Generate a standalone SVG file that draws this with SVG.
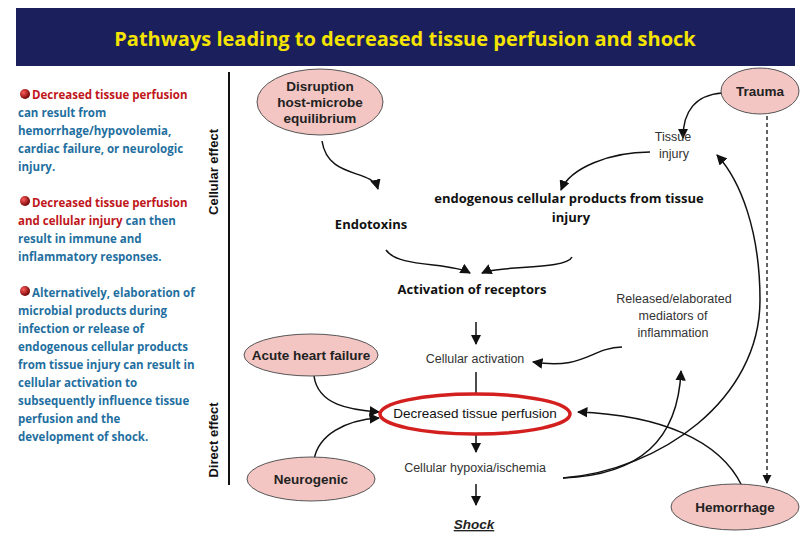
<svg xmlns="http://www.w3.org/2000/svg" width="810" height="540" viewBox="0 0 810 540">
<style>
.side{font-family:"Open Sans","Liberation Sans",sans-serif;font-size:11.5px;font-weight:bold;fill:#1f6fa0}
.r{fill:#c0161b}
.node{fill:#f4c6c3;stroke:#555;stroke-width:1}
.nt{font-family:"Liberation Sans",Arial,sans-serif;font-size:13.5px;font-weight:bold;fill:#222;text-anchor:middle}
.pt{font-family:"Liberation Sans",Arial,sans-serif;font-size:12.5px;fill:#333;text-anchor:middle}
.bt{font-family:"Open Sans","Liberation Sans",sans-serif;font-size:13px;font-weight:bold;fill:#111;text-anchor:middle}
.c{fill:none;stroke:#111;stroke-width:1.5;marker-end:url(#a)}
</style>
<defs>
<marker id="a" viewBox="0 0 10 10" refX="9" refY="5" markerWidth="7" markerHeight="7" orient="auto-start-reverse"><path d="M0,0 L10,5 L0,10 z" fill="#111"/></marker>
<radialGradient id="g" cx="0.35" cy="0.35" r="0.7"><stop offset="0" stop-color="#ff5a5a"/><stop offset="1" stop-color="#6a0000"/></radialGradient>
</defs>
<rect width="810" height="540" fill="#fff"/>
<g id="title"><rect x="16" y="8" width="779" height="58" fill="#1b1f5c"/>
<text x="405" y="46" text-anchor="middle" font-family="'Open Sans','Liberation Sans',sans-serif" font-size="20" font-weight="bold" fill="#f5e400">Pathways leading to decreased tissue perfusion and shock</text></g>
<g id="sidetext">
<circle cx="25" cy="94" r="5" fill="url(#g)"/>
<text class="side" x="32" y="99"><tspan class="r">Decreased tissue perfusion</tspan></text>
<text class="side" x="18" y="117">can result from</text>
<text class="side" x="18" y="135">hemorrhage/hypovolemia,</text>
<text class="side" x="18" y="153">cardiac failure, or neurologic</text>
<text class="side" x="18" y="171">injury.</text>
<circle cx="25" cy="201" r="5" fill="url(#g)"/>
<text class="side" x="32" y="207"><tspan class="r">Decreased tissue perfusion</tspan></text>
<text class="side" x="18" y="225"><tspan class="r">and cellular injury</tspan> can then</text>
<text class="side" x="18" y="243">result in immune and</text>
<text class="side" x="18" y="261">inflammatory responses.</text>
<circle cx="25" cy="291" r="5" fill="url(#g)"/>
<text class="side" x="32" y="297">Alternatively, elaboration of</text>
<text class="side" x="18" y="315">microbial products during</text>
<text class="side" x="18" y="333">infection or release of</text>
<text class="side" x="18" y="351">endogenous cellular products</text>
<text class="side" x="18" y="369">from tissue injury can result in</text>
<text class="side" x="18" y="387">cellular activation to</text>
<text class="side" x="18" y="405">subsequently influence tissue</text>
<text class="side" x="18" y="423">perfusion and the</text>
<text class="side" x="18" y="441">development of shock.</text>
</g>
<g id="axis">
<line x1="229" y1="72" x2="229" y2="485" stroke="#111" stroke-width="2"/>
<text transform="translate(218,172) rotate(-90)" text-anchor="middle" font-family="'Liberation Sans',Arial,sans-serif" font-size="13" font-weight="bold" fill="#111">Cellular effect</text>
<text transform="translate(218,440) rotate(-90)" text-anchor="middle" font-family="'Liberation Sans',Arial,sans-serif" font-size="13" font-weight="bold" fill="#111">Direct effect</text>
</g>
<g id="connectors">
<path class="c" d="M322,141 C328,180 372,168 378,189"/>
<path class="c" d="M650,152 C610,152 570,168 561,190"/>
<path class="c" d="M386,250 C398,268 450,262 470,273"/>
<path class="c" d="M572,257 C566,270 500,265 482,273"/>
<path class="c" d="M722,93 C695,95 683,112 683,138"/>
<line class="c" x1="476" y1="322" x2="476" y2="344"/>
<path class="c" d="M622,347 C590,348 585,370 533,362"/>
<line x1="476" y1="372" x2="476" y2="398" stroke="#111" stroke-width="1.5"/>
<line class="c" x1="476" y1="432" x2="476" y2="452"/>
<line class="c" x1="476" y1="484" x2="476" y2="505"/>
<path class="c" d="M314,376 C318,405 350,410 379,412"/>
<path class="c" d="M314,460 C318,435 345,420 379,418"/>
<path class="c" d="M563,478 C640,475 678,440 681,371"/>
<path class="c" d="M563,478 C660,470 760,400 760,300 C760,230 740,180 717,155"/>
<path class="c" d="M742,486 C720,440 660,415 578,412"/>
<line x1="767" y1="116" x2="767" y2="483" stroke="#111" stroke-width="1.3" stroke-dasharray="4,3" marker-end="url(#a)"/>
</g>
<g id="n-disruption"><ellipse class="node" cx="320" cy="102" rx="63" ry="33"/>
<text class="nt" x="320" y="91">Disruption</text><text class="nt" x="320" y="107">host-microbe</text><text class="nt" x="320" y="123">equilibrium</text></g>
<g id="n-trauma"><ellipse class="node" cx="760" cy="91" rx="39" ry="23"/><text class="nt" x="760" y="96">Trauma</text></g>
<g id="n-tissue"><text class="pt" x="673" y="141">Tissue</text><text class="pt" x="674" y="158">injury</text></g>
<g id="n-endo"><text class="bt" x="569" y="203">endogenous cellular products from tissue</text><text class="bt" x="571" y="222">injury</text></g>
<g id="n-endotoxins"><text class="bt" x="371" y="229">Endotoxins</text></g>
<g id="n-activation"><text class="bt" x="472" y="294">Activation of receptors</text></g>
<g id="n-released"><text class="pt" x="674" y="303">Released/elaborated</text><text class="pt" x="673" y="320">mediators of</text><text class="pt" x="673" y="337">inflammation</text></g>
<g id="n-heart"><ellipse class="node" cx="311" cy="355" rx="67" ry="21"/><text class="nt" x="311" y="360">Acute heart failure</text></g>
<g id="n-cellact"><text class="pt" x="475" y="363">Cellular activation</text></g>
<g id="n-dtp"><ellipse cx="475" cy="414" rx="95" ry="20" fill="#fff" stroke="#d41f1f" stroke-width="3.5"/><text class="nt" x="475" y="418" style="font-weight:normal;fill:#111">Decreased tissue perfusion</text></g>
<g id="n-neuro"><ellipse class="node" cx="311" cy="479" rx="64" ry="22"/><text class="nt" x="311" y="484">Neurogenic</text></g>
<g id="n-hypoxia"><text class="pt" x="475" y="472">Cellular hypoxia/ischemia</text></g>
<g id="n-hemorrhage"><ellipse class="node" cx="735" cy="507" rx="64" ry="23"/><text class="nt" x="735" y="512">Hemorrhage</text></g>
<g id="n-shock"><text class="nt" x="474" y="529" style="font-style:italic;text-decoration:underline">Shock</text></g>
</svg>
